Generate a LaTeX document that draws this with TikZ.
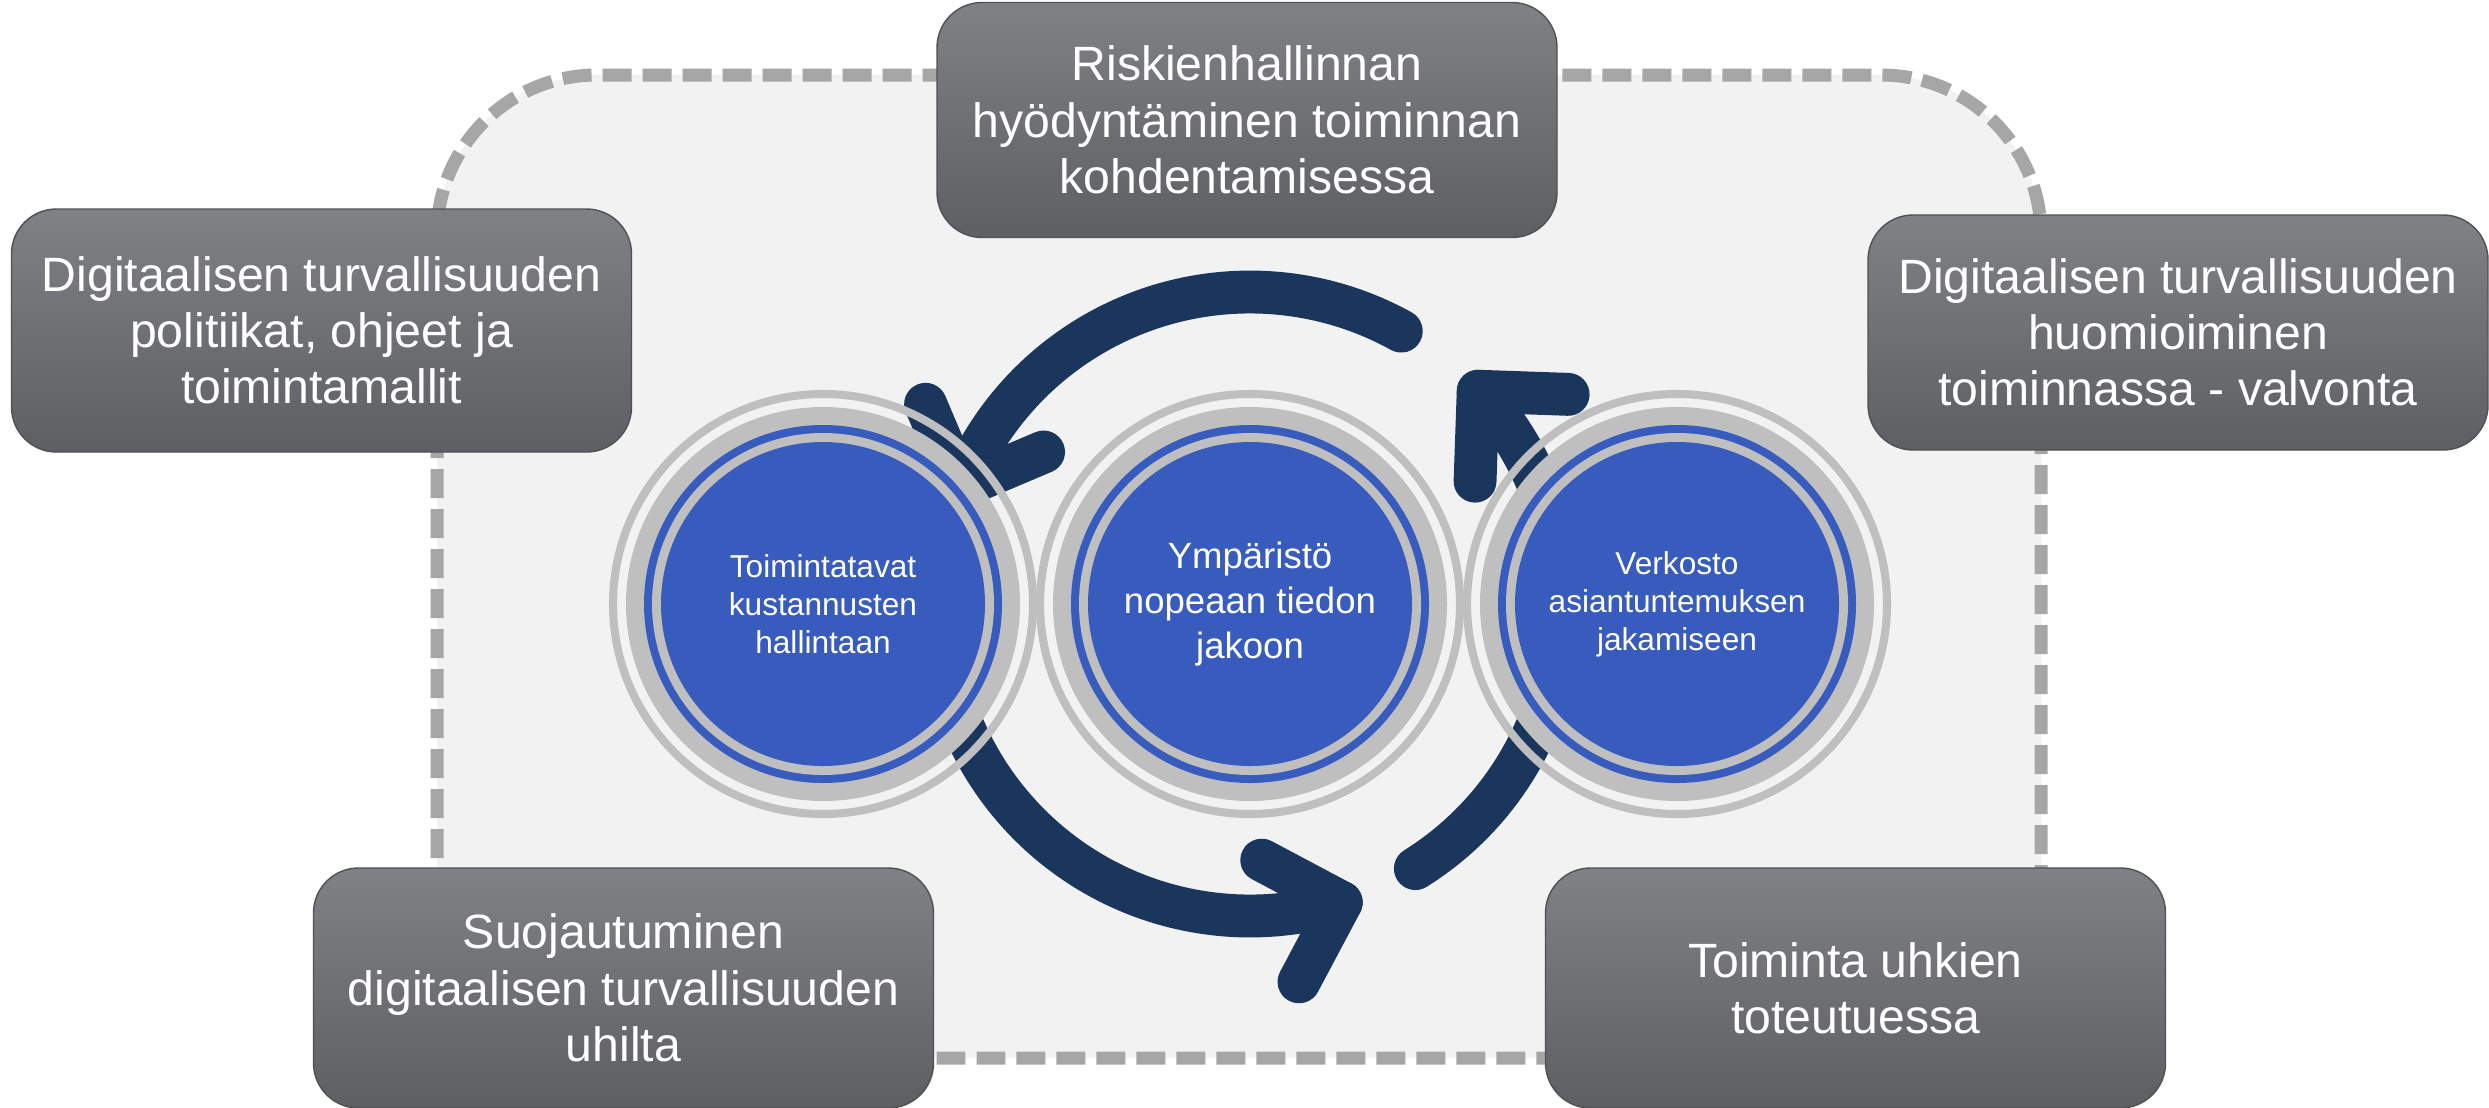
\documentclass[tikz,border=0pt]{standalone}
\usepackage{fontspec}
\setmainfont{Liberation Sans}
\usetikzlibrary{calc}
\definecolor{framefill}{HTML}{F2F2F2}
\definecolor{framedash}{HTML}{A6A6A6}
\definecolor{ringgray}{HTML}{BFBFBF}
\definecolor{hubblue}{HTML}{385BBE}
\definecolor{cyclenavy}{HTML}{1B365D}
\definecolor{boxtop}{HTML}{808185}
\definecolor{boxbottom}{HTML}{5E5F63}

\begin{document}
\begin{tikzpicture}[line cap=round, line join=round,
	infobox/.style={rectangle, rounded corners=0.45cm, top color=boxtop, bottom color=boxbottom,
		draw=boxbottom!85!black, line width=0.4pt, minimum width=6.2cm, minimum height=2.35cm,
		align=center, text=white, font=\fontsize{13.7}{16}\selectfont},
	hub/.style={circle, fill=hubblue, minimum size=3.24cm, inner sep=0pt, align=center,
		text=white, font=\fontsize{9}{10.8}\selectfont},
	ringthin/.style={draw=ringgray, line width=2.3pt},
	cyclearc/.style={draw=cyclenavy, line width=12.2pt}]

\useasboundingbox (0,0) rectangle (24.89,11.07);
\fill[white] (0,0) rectangle (24.89,11.07);

% ==== dashed frame ====
\draw[framedash, fill=framefill, line width=3.7pt, line cap=butt,
	dash pattern=on 8.25pt off 3.13pt, rounded corners=1.6cm]
	(4.37,0.49) rectangle (20.41,10.32);

% ==== hub centres ====
\coordinate (lhub) at (8.23,5.03);
\coordinate (mhub) at (12.50,5.03);
\coordinate (rhub) at (16.77,5.03);

% ==== cycle arrows round the middle hub ====
\draw[cyclearc] ($(mhub)+(61:3.12)$) arc[start angle=61, end angle=158, radius=3.12] coordinate (tipA);
\draw[cyclearc] ($(tipA)+(113:0.9)$) -- (tipA) -- ($(tipA)+(23:0.9)$);

\draw[cyclearc] ($(mhub)+(195:3.12)$) arc[start angle=195, end angle=287, radius=3.12] coordinate (tipB);
\draw[cyclearc] ($(tipB)+(242:0.9)$) -- (tipB) -- ($(tipB)+(152:0.9)$);

\draw[cyclearc] ($(mhub)+(-58:3.12)$) arc[start angle=-58, end angle=43, radius=3.12] coordinate (tipC);
\draw[cyclearc] ($(tipC)+(-2:0.9)$) -- (tipC) -- ($(tipC)+(-92:0.9)$);

% ==== left hub ====
\draw[ringthin] (lhub) circle (2.10);
\fill[ringgray] (lhub) circle (1.97);
\fill[hubblue] (lhub) circle (1.79);
\fill[ringgray] (lhub) circle (1.71);
\node[hub] (ways) at (lhub) {Toimintatavat\\kustannusten\\hallintaan};

% ==== middle hub ====
\draw[ringthin] (mhub) circle (2.10);
\fill[ringgray] (mhub) circle (1.97);
\fill[hubblue] (mhub) circle (1.79);
\fill[ringgray] (mhub) circle (1.71);
\node[hub, font=\fontsize{10.4}{12.7}\selectfont] (envir) at (mhub) {Ympäristö\\nopeaan tiedon\\jakoon};

% ==== right hub ====
\draw[ringthin] (rhub) circle (2.10);
\fill[ringgray] (rhub) circle (1.97);
\fill[hubblue] (rhub) circle (1.79);
\fill[ringgray] (rhub) circle (1.71);
\node[hub] (netw) at (rhub) {Verkosto\\asiantuntemuksen\\jakamiseen};

% ==== grey boxes ====
\node[infobox] (risk) at (12.47,9.87) {Riskienhallinnan\\hyödyntäminen toiminnan\\kohdentamisessa};
\node[infobox, minimum height=2.43cm] (policy) at (3.215,7.765) {Digitaalisen turvallisuuden\\politiikat, ohjeet ja\\toimintamallit};
\node[infobox] (monitor) at (21.78,7.745) {Digitaalisen turvallisuuden\\huomioiminen\\toiminnassa - valvonta};
\node[infobox, minimum height=2.4cm] (protect) at (6.235,1.19) {Suojautuminen\\digitaalisen turvallisuuden\\uhilta};
\node[infobox, minimum height=2.4cm] (respond) at (18.555,1.19) {Toiminta uhkien\\toteutuessa};

\end{tikzpicture}
\end{document}
